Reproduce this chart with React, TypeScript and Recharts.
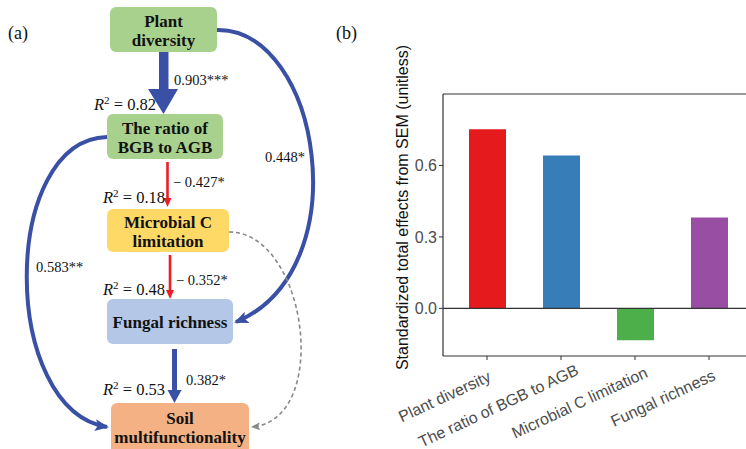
import React from 'react';
import { BarChart, Bar, XAxis, YAxis, Cell, ReferenceLine } from 'recharts';

// ---------- Panel (b) data ----------
const categories = ['Plant diversity', 'The ratio of BGB to AGB', 'Microbial C limitation', 'Fungal richness'];
const totalEffects = [0.752, 0.642, -0.134, 0.382];
const barColors = ['#E41A1C', '#377EB8', '#4DAF4A', '#984EA3'];
const yTicks = [0, 0.3, 0.6];
const yDomain = [-0.2, 0.9];
const yTitle = 'Standardized total effects from SEM (unitless)';

// ---------- Panel (a) data ----------
const nodeLines = [['Plant', 'diversity'], ['The ratio of', 'BGB to AGB'], ['Microbial C', 'limitation'], ['Fungal richness'], ['Soil', 'multifunctionality']];
const pathCoefficients = ['0.903***', '\u2212 0.427*', '\u2212 0.352*', '0.382*', '0.448*', '0.583**'];
const rSquared = ['0.82', '0.18', '0.48', '0.53'];

// ---------- Layout / styles (not data) ----------
const nodeFills = ['#A9D18E', '#A9D18E', '#FFD966', '#B4C7E7', '#F4B183'];
const nodeBoxes = [
  { x: 110, y: 7, w: 107, h: 45, lineY: [21, 40] },
  { x: 107, y: 114, w: 116, h: 45, lineY: [128, 147] },
  { x: 107, y: 209, w: 122, h: 43, lineY: [222, 241] },
  { x: 107, y: 299, w: 126, h: 45, lineY: [322] },
  { x: 111, y: 403, w: 138, h: 52, lineY: [418, 437] },
];
const coefPos = [
  { x: 174, y: 85 },
  { x: 173, y: 187 },
  { x: 176, y: 285 },
  { x: 186, y: 385 },
  { x: 265, y: 162 },
  { x: 36, y: 272 },
];
const r2Pos = [
  { x: 94, y: 110 },
  { x: 103, y: 203 },
  { x: 103, y: 295 },
  { x: 103, y: 395 },
];

const BLUE = '#3A50A5';
const RED = '#EE1C25';
const SERIF = "'Liberation Serif', 'Times New Roman', serif";
const SANS = "'Liberation Sans', Arial, sans-serif";

const data = categories.map((name, i) => ({ name, value: totalEffects[i] }));

let measureCtx: CanvasRenderingContext2D | null = null;
function measure(text: string): number {
  try {
    if (!measureCtx) {
      const c = document.createElement('canvas');
      measureCtx = c.getContext('2d');
    }
    if (measureCtx) {
      measureCtx.font = `16px ${SANS}`;
      return measureCtx.measureText(text).width;
    }
  } catch (e) {}
  return text.length * 8;
}

const XTick = (props: any) => {
  const { x, y, payload } = props;
  const label = String(payload.value);
  const L = measure(label);
  return (
    <g transform={`translate(${x},${y})`}>
      <text
        transform="rotate(-25)"
        x={0.2 * L - 24}
        y={20.7}
        textAnchor="end"
        fontSize={16}
        fill="#4D4D4D"
        fontFamily={SANS}
      >
        {label}
      </text>
    </g>
  );
};

const Diagram = () => (
  <svg width={746} height={449} style={{ position: 'absolute', left: 0, top: 0, pointerEvents: 'none' }}>
    <defs>
      <marker id="blueHead" markerUnits="userSpaceOnUse" markerWidth={16} markerHeight={14} refX={12} refY={6} orient="auto">
        <path d="M0,0 L14,6 L0,12 L3,6 z" fill={BLUE} />
      </marker>
      <marker id="grayHead" markerUnits="userSpaceOnUse" markerWidth={12} markerHeight={10} refX={8} refY={4} orient="auto">
        <path d="M0,0 L9,4 L0,8 L2,4 z" fill="#888" />
      </marker>
    </defs>

    <text x={8} y={39} fontSize={18} fontFamily={SERIF} fill="#111">(a)</text>
    <text x={336} y={39} fontSize={18} fontFamily={SERIF} fill="#111">(b)</text>

    {/* boxes */}
    {nodeBoxes.map((b, i) => (
      <g key={i}>
        <rect x={b.x} y={b.y} width={b.w} height={b.h} rx={6} ry={6} fill={nodeFills[i]} />
        {nodeLines[i].map((t, j) => (
          <text key={j} x={b.x + b.w / 2} y={b.lineY[j] + 6} textAnchor="middle" fontSize={17} fontWeight="bold" fontFamily={SERIF} fill="#111">
            {t}
          </text>
        ))}
      </g>
    ))}

    {/* curved paths */}
    <path d="M217,30 C320,28 360,270 236,322" fill="none" stroke={BLUE} strokeWidth={4} markerEnd="url(#blueHead)" />
    <path d="M107,137 C0,140 0,410 107,427" fill="none" stroke={BLUE} strokeWidth={4} markerEnd="url(#blueHead)" />
    <path d="M229,232 C307,232 332,420 252,427" fill="none" stroke="#888" strokeWidth={1.6} strokeDasharray="4 3" markerEnd="url(#grayHead)" />

    {/* thick arrow plant -> ratio */}
    <rect x={159} y={52} width={9.5} height={40} fill={BLUE} />
    <polygon points="148,89 178,89 163.5,114" fill={BLUE} />

    {/* red arrows */}
    <line x1={167.5} y1={162} x2={167.5} y2={199} stroke={RED} strokeWidth={2.6} />
    <polygon points="163.5,198 171.5,198 167.5,207" fill={RED} />
    <line x1={170} y1={255} x2={170} y2={291} stroke={RED} strokeWidth={2.6} />
    <polygon points="166,290 174,290 170,299" fill={RED} />

    {/* blue arrow fungal -> soil */}
    <line x1={174.5} y1={349} x2={174.5} y2={392} stroke={BLUE} strokeWidth={5} />
    <polygon points="167.5,390 181.5,390 174.5,403" fill={BLUE} />

    {/* coefficients */}
    {pathCoefficients.map((c, i) => (
      <text key={i} x={coefPos[i].x} y={coefPos[i].y} fontSize={14.5} fontFamily={SERIF} fill="#111">
        {c}
      </text>
    ))}

    {/* R squared */}
    {rSquared.map((r, i) => (
      <text key={i} x={r2Pos[i].x} y={r2Pos[i].y} fontSize={16.5} fontFamily={SERIF} fill="#111">
        <tspan fontStyle="italic">R</tspan>
        <tspan fontSize={11} dy={-6}>2</tspan>
        <tspan dy={6}>{` = ${r}`}</tspan>
      </text>
    ))}

    {/* y axis title of panel (b) */}
    <text
      transform="translate(408,207.5) rotate(-90)"
      textAnchor="middle"
      fontSize={16}
      fontFamily={SANS}
      fill="#111"
    >
      {yTitle}
    </text>
  </svg>
);

export default function App() {
  return (
    <div style={{ position: 'absolute', left: 0, top: 0, width: 746, height: 449, overflow: 'hidden', background: '#fff' }}>
      <div style={{ position: 'absolute', left: 360, top: 0 }}>
        <BarChart width={400} height={449} data={data} margin={{ top: 94, right: 7, bottom: 0, left: 0 }}>
          <XAxis
            dataKey="name"
            height={93}
            padding={{ left: 7, right: 7 }}
            tickSize={4}
            tickMargin={0}
            tick={<XTick />}
            axisLine={{ stroke: '#333', strokeWidth: 1.2 }}
            tickLine={{ stroke: '#333' }}
            interval={0}
          />
          <YAxis
            width={83}
            domain={yDomain}
            ticks={yTicks}
            type="number"
            allowDataOverflow
            tickSize={4}
            tickMargin={2}
            tickFormatter={(v: number) => v.toFixed(1)}
            tick={{ fontSize: 16, fill: '#4D4D4D', fontFamily: SANS }}
            axisLine={{ stroke: '#333', strokeWidth: 1.2 }}
            tickLine={{ stroke: '#333' }}
          />
          <ReferenceLine y={0.9} stroke="#333" strokeWidth={1.2} />
          <ReferenceLine y={0} stroke="#333" strokeWidth={1.2} />
          <Bar dataKey="value" barSize={37} isAnimationActive={false}>
            {data.map((d, i) => (
              <Cell key={d.name} fill={barColors[i]} />
            ))}
          </Bar>
        </BarChart>
      </div>
      <Diagram />
    </div>
  );
}
